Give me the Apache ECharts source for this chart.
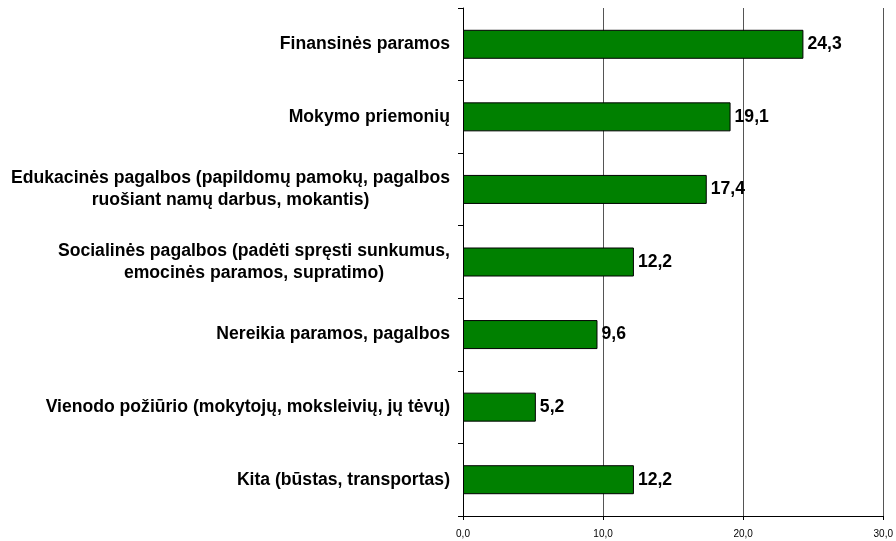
<!DOCTYPE html>
<html>
<head>
<meta charset="utf-8">
<title>Parama</title>
<script src="https://cdn.jsdelivr.net/npm/echarts@6/dist/echarts.min.js"></script>
</head>
<body style="margin:0;background:#fff;">
<div id="main" style="width:896px;height:541px;"></div>
<script type="text/javascript">
// categories top to bottom
var categories = [
  'Finansinės paramos',
  'Mokymo priemonių',
  'Edukacinės pagalbos (papildomų pamokų, pagalbos\nruošiant namų darbus, mokantis)',
  'Socialinės pagalbos (padėti spręsti sunkumus,\nemocinės paramos, supratimo)',
  'Nereikia paramos, pagalbos',
  'Vienodo požiūrio (mokytojų, moksleivių, jų tėvų)',
  'Kita (būstas, transportas)'
];
var values = [24.3, 19.1, 17.4, 12.2, 9.6, 5.2, 12.2];
var xTicks = [0, 10, 20, 30];

var chart = echarts.init(document.getElementById('main'));

var option = {
  animation: false,
  textStyle: { fontFamily: 'Liberation Sans, Arial, sans-serif' },
  grid: { left: 463, right: 10, top: 8, bottom: 25, containLabel: false },
  xAxis: {
    type: 'value',
    min: xTicks[0],
    max: xTicks[xTicks.length - 1],
    interval: 10,
    axisLine: { show: true, lineStyle: { color: '#000', width: 1 } },
    axisTick: { show: true, length: 4, lineStyle: { color: '#000' } },
    axisLabel: {
      color: '#000', fontSize: 10, margin: 13,
      formatter: function (v) { return v.toFixed(1).replace('.', ','); }
    },
    splitLine: { show: true, lineStyle: { color: '#555', width: 1 } }
  },
  yAxis: {
    type: 'category',
    inverse: true,
    data: categories,
    axisLine: { show: true, lineStyle: { color: '#000', width: 1 } },
    axisTick: { show: true, length: 5, inside: false, lineStyle: { color: '#000' } },
    axisLabel: {
      color: '#000', fontSize: 17.6, fontWeight: 'bold', margin: 13,
      formatter: function (v) {
        return v.split('\n').map(function (s) { return '{c|' + s + '}'; }).join('\n');
      },
      rich: {
        c: { align: 'center', fontSize: 17.6, fontWeight: 'bold', color: '#000', lineHeight: 22 }
      }
    }
  },
  series: [{
    type: 'bar',
    data: values,
    barWidth: 29,
    itemStyle: { color: '#008000', borderColor: '#000', borderWidth: 1 },
    label: {
      show: true, position: 'right', distance: 4,
      color: '#000', fontSize: 17.6, fontWeight: 'bold',
      formatter: function (p) { return p.value.toFixed(1).replace('.', ','); }
    }
  }]
};

chart.setOption(option);
</script>
</body>
</html>
